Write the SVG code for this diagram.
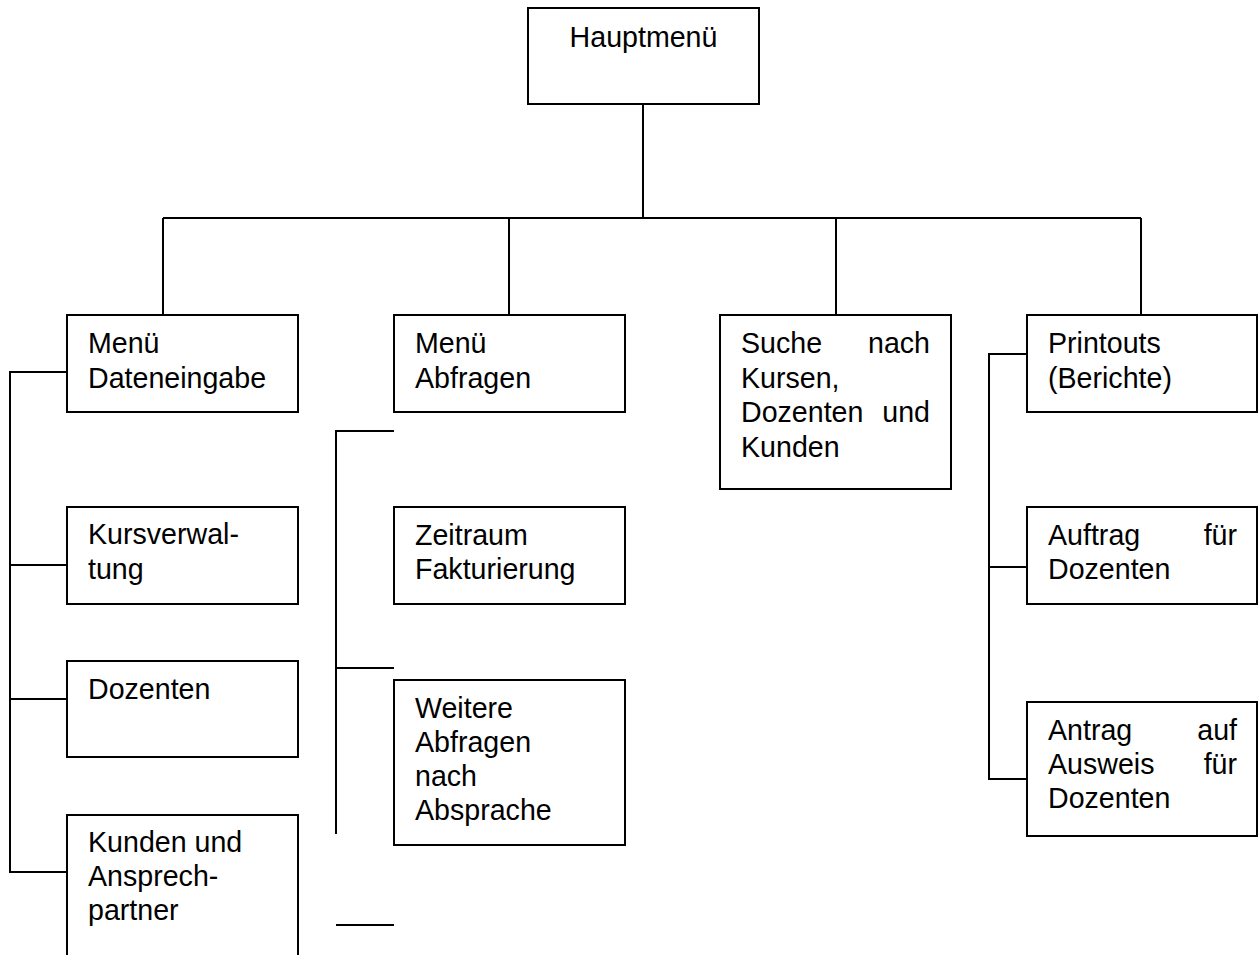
<svg xmlns="http://www.w3.org/2000/svg" width="1258" height="955" viewBox="0 0 1258 955">
<style>
.box{fill:#fff;stroke:#000;stroke-width:2}
.lbl{font-family:"Liberation Sans",Arial,sans-serif;font-size:28.6px;fill:#000}
.end{text-anchor:end}
.mid{text-anchor:middle}
.con{fill:none;stroke:#000;stroke-width:2}
</style>
<rect width="1258" height="955" fill="#fff"/>
<g id="connectors">
<path class="con" d="M643,104V218M163,218H1141M163,218V315M509,218V315M836,218V315M1141,218V315"/>
<path class="con" d="M67,372H10V872H67M10,565H67M10,699H67"/>
<path class="con" d="M394,431H336V834M336,668H394M336,925H394"/>
<path class="con" d="M1027,354H989V779H1027M989,567H1027"/>
</g>
<g id="hauptmenue">
<rect class="box" x="528" y="8" width="231" height="96"/>
<text class="lbl mid" x="643.5" y="46.5">Hauptmenü</text>
</g>
<g id="dateneingabe">
<rect class="box" x="67" y="315" width="231" height="97"/>
<text class="lbl" x="88" y="353">Menü</text>
<text class="lbl" x="88" y="387.5">Dateneingabe</text>
</g>
<g id="abfragen">
<rect class="box" x="394" y="315" width="231" height="97"/>
<text class="lbl" x="415" y="353">Menü</text>
<text class="lbl" x="415" y="387.5">Abfragen</text>
</g>
<g id="suche">
<rect class="box" x="720" y="315" width="231" height="174"/>
<text class="lbl" x="741" y="353">Suche</text>
<text class="lbl end" x="930" y="353">nach</text>
<text class="lbl" x="741" y="387.5">Kursen,</text>
<text class="lbl" x="741" y="422">Dozenten</text>
<text class="lbl end" x="930" y="422">und</text>
<text class="lbl" x="741" y="456.5">Kunden</text>
</g>
<g id="printouts">
<rect class="box" x="1027" y="315" width="230" height="97"/>
<text class="lbl" x="1048" y="353">Printouts</text>
<text class="lbl" x="1048" y="387.5">(Berichte)</text>
</g>
<g id="kursverwaltung">
<rect class="box" x="67" y="507" width="231" height="97"/>
<text class="lbl" x="88" y="544">Kursverwal-</text>
<text class="lbl" x="88" y="578.5">tung</text>
</g>
<g id="dozenten">
<rect class="box" x="67" y="661" width="231" height="96"/>
<text class="lbl" x="88" y="699">Dozenten</text>
</g>
<g id="kunden">
<rect class="box" x="67" y="815" width="231" height="160"/>
<text class="lbl" x="88" y="852">Kunden und</text>
<text class="lbl" x="88" y="886">Ansprech-</text>
<text class="lbl" x="88" y="920">partner</text>
</g>
<g id="zeitraum">
<rect class="box" x="394" y="507" width="231" height="97"/>
<text class="lbl" x="415" y="544.5">Zeitraum</text>
<text class="lbl" x="415" y="579">Fakturierung</text>
</g>
<g id="weitere">
<rect class="box" x="394" y="680" width="231" height="165"/>
<text class="lbl" x="415" y="718">Weitere</text>
<text class="lbl" x="415" y="752">Abfragen</text>
<text class="lbl" x="415" y="786">nach</text>
<text class="lbl" x="415" y="820">Absprache</text>
</g>
<g id="auftrag">
<rect class="box" x="1027" y="507" width="230" height="97"/>
<text class="lbl" x="1048" y="545">Auftrag</text>
<text class="lbl end" x="1237" y="545">für</text>
<text class="lbl" x="1048" y="579">Dozenten</text>
</g>
<g id="antrag">
<rect class="box" x="1027" y="702" width="230" height="134"/>
<text class="lbl" x="1048" y="740">Antrag</text>
<text class="lbl end" x="1237" y="740">auf</text>
<text class="lbl" x="1048" y="774">Ausweis</text>
<text class="lbl end" x="1237" y="774">für</text>
<text class="lbl" x="1048" y="808">Dozenten</text>
</g>
</svg>
